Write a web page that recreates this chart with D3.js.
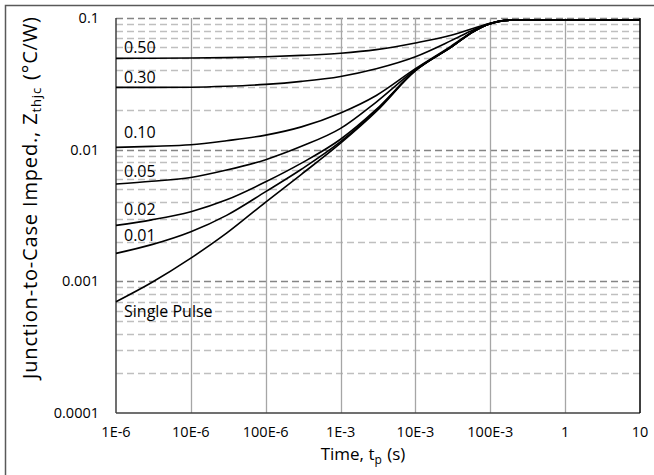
<!DOCTYPE html>
<html>
<head>
<meta charset="utf-8">
<script src="https://cdn.jsdelivr.net/npm/d3@7"></script>
<style>
  body { margin: 0; background: #fff; }
  text { font-family: "Open Sans", sans-serif; fill: #000; }
</style>
</head>
<body>
<script>
const times = [1e-6, 3e-6, 1e-5, 3e-5, 1e-4, 3e-4, 1e-3, 3e-3, 1e-2, 3e-2, 6e-2, 1e-1, 1.5e-1, 2e-1, 1, 10]

// Zthjc (°C/W) per duty cycle
const singlePulse = [0.0007, 0.00098, 0.0015, 0.00232, 0.0040, 0.0065, 0.0112, 0.0195, 0.0398, 0.0600, 0.0790, 0.0905, 0.0955, 0.0965, 0.0966, 0.0966]
const duty001 = [0.00163, 0.0019, 0.00238, 0.00317, 0.0048, 0.0071, 0.0115, 0.0199, 0.0398, 0.0600, 0.0790, 0.0905, 0.0955, 0.0965, 0.0966, 0.0966]
const duty002 = [0.00266, 0.00293, 0.00338, 0.00416, 0.0057, 0.0079, 0.0120, 0.0202, 0.0400, 0.0601, 0.0790, 0.0905, 0.0955, 0.0965, 0.0966, 0.0966]
const duty005 = [0.00548, 0.00575, 0.00615, 0.0070, 0.0084, 0.0106, 0.0145, 0.0230, 0.0405, 0.0603, 0.0792, 0.0906, 0.0955, 0.0965, 0.0966, 0.0966]
const duty010 = [0.0104, 0.0106, 0.0109, 0.0117, 0.0129, 0.0149, 0.0190, 0.0258, 0.0412, 0.0612, 0.0795, 0.0907, 0.0956, 0.0965, 0.0966, 0.0966]
const duty030 = [0.0297, 0.0297, 0.0298, 0.0303, 0.0313, 0.0330, 0.0360, 0.0412, 0.0508, 0.0673, 0.0815, 0.0910, 0.0957, 0.0965, 0.0966, 0.0966]
const duty050 = [0.0494, 0.0495, 0.0497, 0.0500, 0.0508, 0.0520, 0.0540, 0.0575, 0.0646, 0.0740, 0.0835, 0.0912, 0.0958, 0.0965, 0.0966, 0.0966]

const seriesNames = ["Single Pulse", "0.01", "0.02", "0.05", "0.10", "0.30", "0.50"]
const seriesValues = [singlePulse, duty001, duty002, duty005, duty010, duty030, duty050]

const xTickValues = [1e-6, 1e-5, 1e-4, 1e-3, 1e-2, 1e-1, 1, 10]
const xTickLabels = ["1E-6", "10E-6", "100E-6", "1E-3", "10E-3", "100E-3", "1", "10"]
const yTickValues = [1e-4, 1e-3, 1e-2, 1e-1]
const yTickLabels = ["0.0001", "0.001", "0.01", "0.1"]

const width = 654, height = 475
const plotLeft = 116, plotRight = 640, plotTop = 18, plotBottom = 413

const svg = d3.select("body").append("svg")
  .attr("width", width)
  .attr("height", height)

// outer chart border (cut off on the right and bottom in the original)
svg.append("rect")
  .attr("x", 5.5).attr("y", 5.5)
  .attr("width", 700).attr("height", 500)
  .attr("fill", "none")
  .attr("stroke", "#595959")
  .attr("stroke-width", 1.5)

const x = d3.scaleLog().domain([1e-6, 10]).range([plotLeft, plotRight])
const y = d3.scaleLog().domain([1e-4, 0.1]).range([plotBottom, plotTop])

// horizontal dashed grid, minor + major
var minorY = []
for (var e = -4; e < -1; e++) {
  for (var m = 2; m <= 9; m++) minorY.push(m * Math.pow(10, e))
}
svg.append("g").selectAll("line")
  .data(minorY)
  .enter().append("line")
  .attr("x1", plotLeft).attr("x2", plotRight)
  .attr("y1", d => Math.round(y(d)) + 0.5)
  .attr("y2", d => Math.round(y(d)) + 0.5)
  .attr("stroke", "#bfbfbf")
  .attr("stroke-width", 1.3)
  .attr("stroke-dasharray", "7,4")

svg.append("g").selectAll("line")
  .data(yTickValues.slice(1))
  .enter().append("line")
  .attr("x1", plotLeft).attr("x2", plotRight)
  .attr("y1", d => Math.round(y(d)) + 0.5)
  .attr("y2", d => Math.round(y(d)) + 0.5)
  .attr("stroke", "#858585")
  .attr("stroke-width", 1.4)
  .attr("stroke-dasharray", "7,4")

// vertical solid grid
svg.append("g").selectAll("line")
  .data(xTickValues.slice(1, -1))
  .enter().append("line")
  .attr("x1", d => Math.round(x(d)) + 0.5)
  .attr("x2", d => Math.round(x(d)) + 0.5)
  .attr("y1", plotTop).attr("y2", plotBottom)
  .attr("stroke", "#a6a6a6")
  .attr("stroke-width", 1.3)

// axis lines
svg.append("line")
  .attr("x1", plotLeft).attr("x2", plotLeft)
  .attr("y1", plotTop).attr("y2", plotBottom)
  .attr("stroke", "#404040").attr("stroke-width", 1.5)
svg.append("line")
  .attr("x1", plotLeft).attr("x2", plotRight)
  .attr("y1", plotBottom).attr("y2", plotBottom)
  .attr("stroke", "#404040").attr("stroke-width", 1.5)
svg.append("line")
  .attr("x1", plotRight).attr("x2", plotRight)
  .attr("y1", plotTop).attr("y2", plotBottom)
  .attr("stroke", "#000").attr("stroke-width", 1.5)

// tick labels
svg.append("g").selectAll("text")
  .data(xTickValues)
  .enter().append("text")
  .attr("x", d => x(d))
  .attr("y", 437)
  .attr("text-anchor", "middle")
  .style("font-size", "14.5px")
  .text((d, i) => xTickLabels[i])

svg.append("g").selectAll("text")
  .data(yTickValues)
  .enter().append("text")
  .attr("x", 99)
  .attr("y", d => y(d) + 5)
  .attr("text-anchor", "end")
  .style("font-size", "14.5px")
  .text((d, i) => yTickLabels[i])

// curves
const line = d3.line()
  .x(d => x(d[0]))
  .y(d => y(d[1]))
  .curve(d3.curveMonotoneX)

svg.append("g").selectAll("path")
  .data(seriesValues)
  .enter().append("path")
  .attr("d", vals => line(times.map((t, i) => [t, vals[i]])))
  .attr("fill", "none")
  .attr("stroke", "#000")
  .attr("stroke-width", 1.6)

// curve labels, offset from where each curve starts
const labelDy = [15, -12, -10, -7, -9, -4, -5]
svg.append("g").selectAll("text")
  .data(seriesNames)
  .enter().append("text")
  .attr("x", plotLeft + 8)
  .attr("y", (d, i) => y(seriesValues[i][0]) + labelDy[i])
  .style("font-size", "16px")
  .text(d => d)

// axis titles
var xt = svg.append("text")
  .attr("x", 363)
  .attr("y", 460)
  .attr("text-anchor", "middle")
  .style("font-size", "17px")
xt.append("tspan").text("Time, t")
xt.append("tspan").attr("baseline-shift", "-4px").style("font-size", "12px").text("p")
xt.append("tspan").attr("dx", 1).text(" (s)")

var yt = svg.append("text")
  .attr("transform", "translate(37,198) rotate(-90)")
  .attr("text-anchor", "middle")
  .attr("textLength", 362)
  .attr("lengthAdjust", "spacing")
  .style("font-size", "20px")
yt.append("tspan").text("Junction-to-Case Imped., Z")
yt.append("tspan").attr("baseline-shift", "-4px").style("font-size", "13px").text("thjc")
yt.append("tspan").attr("dx", 1).text(" (°C/W)")
</script>
</body>
</html>
